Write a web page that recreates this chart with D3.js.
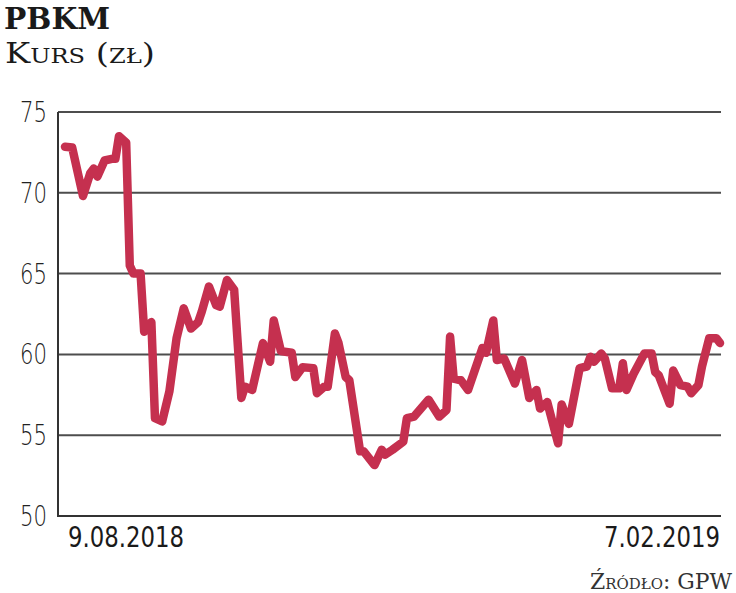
<!DOCTYPE html>
<html>
<head>
<meta charset="utf-8">
<script src="https://cdn.jsdelivr.net/npm/d3@7/dist/d3.min.js"></script>
<style>
  html, body { margin: 0; padding: 0; background: #ffffff; }
  svg { display: block; }
</style>
</head>
<body>
<svg id="chart" width="736" height="593"></svg>
<script>
// ---- data ----
const startDate = "2018-08-09";
const endDate = "2019-02-07";
// days elapsed since the start date for each turning point of the line
const dayOffsets = [0, 2, 5, 7, 8, 9, 11, 13, 14, 15, 17, 18, 19, 21, 22, 24, 25, 27, 29, 31,
  33, 35, 37, 38, 40, 42, 43, 45, 47, 49, 50, 52, 55, 57, 58, 60, 63, 64, 66, 69,
  70, 72, 73, 75, 76, 78, 79, 82, 83, 86, 88, 89, 91, 94, 95, 97, 101, 104, 106, 107,
  108, 110, 112, 116, 117, 119, 120, 122, 125, 127, 129, 131, 132, 134, 137, 138, 140, 143, 145, 146,
  147, 149, 150, 152, 154, 155, 156, 158, 161, 163, 164, 165, 168, 169, 171, 173, 174, 176, 177, 179,
  181, 182];
const prices = [72.85, 72.8, 69.8, 71.2, 71.5, 71.0, 72.0, 72.1, 72.1, 73.5, 73.1, 65.5, 65.0, 65.0, 61.4, 62.0, 56.05, 55.85, 57.7, 61.0,
  62.85, 61.6, 62.0, 62.65, 64.2, 63.05, 62.95, 64.6, 64.0, 57.3, 58.0, 57.8, 60.7, 59.55, 62.1, 60.2, 60.1, 58.6, 59.2, 59.15,
  57.6, 58.0, 58.0, 61.3, 60.7, 58.6, 58.4, 54.0, 54.0, 53.15, 54.1, 53.8, 54.1, 54.6, 56.05, 56.15, 57.2, 56.15, 56.55, 61.1,
  58.5, 58.4, 57.8, 60.4, 60.1, 62.1, 59.65, 59.75, 58.2, 59.65, 57.3, 57.8, 56.65, 57.05, 54.5, 56.9, 55.7, 59.15, 59.25, 59.85,
  59.55, 60.05, 59.75, 57.9, 57.9, 59.45, 57.8, 58.8, 60.05, 60.05, 58.9, 58.7, 56.95, 59.0, 58.1, 58.0, 57.6, 58.1, 59.25, 61.0,
  61.0, 60.7];
const yTicks = [50, 55, 60, 65, 70, 75];
const dateLabels = ["9.08.2018", "7.02.2019"];
const title = "PBKM";
const subtitle = "Kurs (zł)";
const source = "Źródło: GPW";

// ---- drawing ----
const svg = d3.select("#chart");
const parse = d3.utcParse("%Y-%m-%d");
const t0 = parse(startDate), t1 = parse(endDate);
const data = dayOffsets.map((d, i) => ({ date: d3.utcDay.offset(t0, d), value: prices[i] }));

const x = d3.scaleUtc().domain([t0, t1]).range([65, 720]);
const y = d3.scaleLinear().domain([50, 75]).range([516, 112]);
const axisLeft = 58, axisRight = 721;

// gridlines (above baseline)
svg.append("g").selectAll("line")
  .data(yTicks.filter(t => t > 50))
  .join("line")
  .attr("x1", axisLeft).attr("x2", axisRight)
  .attr("y1", d => y(d)).attr("y2", d => y(d))
  .attr("stroke", "#4d4d4d").attr("stroke-width", 2);

// axis frame: left and bottom
svg.append("line").attr("x1", axisLeft).attr("x2", axisLeft)
  .attr("y1", y(75)).attr("y2", y(50) + 1)
  .attr("stroke", "#333").attr("stroke-width", 2);
svg.append("line").attr("x1", axisLeft - 1).attr("x2", axisRight)
  .attr("y1", y(50)).attr("y2", y(50))
  .attr("stroke", "#333").attr("stroke-width", 2);

// y tick labels
svg.append("g").selectAll("text")
  .data(yTicks)
  .join("text")
  .attr("x", 47).attr("y", d => y(d) + 10)
  .attr("text-anchor", "end")
  .attr("font-family", "'DejaVu Sans', sans-serif")
  .attr("font-stretch", "condensed")
  .attr("font-size", 28)
  .attr("font-weight", 300)
  .attr("fill", "#222")
  .attr("textLength", 27)
  .attr("lengthAdjust", "spacingAndGlyphs")
  .text(d => d);

// date labels
svg.append("text").attr("x", 68).attr("y", 547)
  .attr("font-family", "'DejaVu Sans', sans-serif").attr("font-stretch", "condensed")
  .attr("font-size", 28).attr("fill", "#1a1a1a")
  .attr("textLength", 116).attr("lengthAdjust", "spacingAndGlyphs")
  .text(dateLabels[0]);
svg.append("text").attr("x", 604).attr("y", 547)
  .attr("font-family", "'DejaVu Sans', sans-serif").attr("font-stretch", "condensed")
  .attr("font-size", 28).attr("fill", "#1a1a1a")
  .attr("textLength", 116).attr("lengthAdjust", "spacingAndGlyphs")
  .text(dateLabels[1]);

// price line
const line = d3.line().x(d => x(d.date)).y(d => y(d.value));
svg.append("path").datum(data)
  .attr("d", line)
  .attr("fill", "none")
  .attr("stroke", "#c5304f")
  .attr("stroke-width", 8.5)
  .attr("stroke-linejoin", "round")
  .attr("stroke-linecap", "round");

// title and subtitle
svg.append("text").attr("x", 4).attr("y", 29)
  .attr("font-family", "'DejaVu Serif', serif").attr("font-weight", "bold")
  .attr("font-size", 30).attr("fill", "#1a1a1a")
  .attr("textLength", 106).attr("lengthAdjust", "spacingAndGlyphs")
  .text(title);
svg.append("text").attr("x", 5).attr("y", 63)
  .attr("font-family", "'DejaVu Serif', serif")
  .attr("font-size", 28).attr("fill", "#1a1a1a")
  .attr("font-variant", "small-caps")
  .attr("textLength", 150).attr("lengthAdjust", "spacingAndGlyphs")
  .text(subtitle);

// source
svg.append("text").attr("x", 590).attr("y", 589)
  .attr("font-family", "'DejaVu Serif', serif")
  .attr("font-size", 22).attr("fill", "#333")
  .attr("font-variant", "small-caps")
  .attr("textLength", 142).attr("lengthAdjust", "spacingAndGlyphs")
  .text(source);
</script>
</body>
</html>
